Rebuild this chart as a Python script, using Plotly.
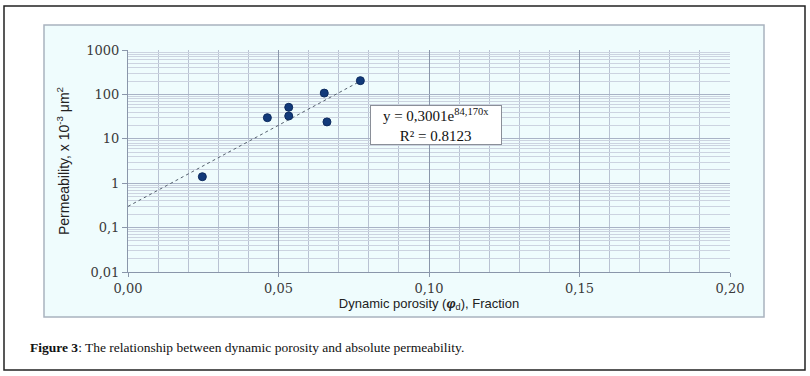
import plotly.graph_objects as go
import math

# Data
porosity = [0.0247, 0.0463, 0.0534, 0.0534, 0.0652, 0.0661, 0.0772]
permeability = [1.40, 29.9, 51.2, 32.6, 107, 24.0, 204]

# Trendline coefficients shown on the chart (y = a * exp(b x))
fit_a = 0.3001
fit_b = 84.170
fit_x = [0.0, 0.0785]
fit_y = [fit_a * math.exp(fit_b * x) for x in fit_x]

x_tickvals = [0.00, 0.05, 0.10, 0.15, 0.20]
x_ticktext = ["0,00", "0,05", "0,10", "0,15", "0,20"]
y_tickvals = [0.01, 0.1, 1, 10, 100, 1000]
y_ticktext = ["0,01", "0,1", "1", "10", "100", "1000"]

W, H = 810, 376
L, R, T, B = 128, 730, 50, 272

fig = go.Figure()
fig.add_trace(go.Scatter(x=fit_x, y=fit_y, mode="lines",
                         line=dict(color="#55606e", width=1, dash="dot"),
                         hoverinfo="skip", showlegend=False))
fig.add_trace(go.Scatter(x=porosity, y=permeability, mode="markers",
                         marker=dict(color="#123a7a", size=8,
                                     line=dict(color="#0c2a5e", width=1)),
                         showlegend=False))

tickfont = dict(family="DejaVu Serif", size=13, color="#3a3a3a")
gridc = "#b9c2d2"
fig.update_xaxes(range=[0, 0.2], tickvals=x_tickvals, ticktext=x_ticktext,
                 tickfont=tickfont, showgrid=True, gridcolor="#8a96aa", gridwidth=1,
                 minor=dict(dtick=0.01, showgrid=True, gridcolor=gridc, gridwidth=1),
                 showline=True, linecolor="#8a96aa", ticks="outside", ticklen=4,
                 tickcolor="#8a96aa", zeroline=False,
                 title=dict(text="Dynamic porosity (<b><i>φ</i></b><sub>d</sub>), Fraction",
                            font=dict(family="Liberation Sans Narrow, Liberation Sans", size=13, color="#222"),
                            standoff=3))
fig.update_yaxes(type="log", range=[-2, 3], tickvals=y_tickvals, ticktext=y_ticktext,
                 tickfont=tickfont, showgrid=True, gridcolor="#a9b3c6", gridwidth=1,
                 minor=dict(dtick="D1", showgrid=True, gridcolor="#ccd3e0", gridwidth=1),
                 showline=True, linecolor="#8a96aa", ticks="outside", ticklen=5,
                 tickcolor="#8a96aa", zeroline=False,
                 title=dict(text="Permeability, x 10<sup>-3</sup> μm<sup>2</sup>",
                            font=dict(family="Liberation Sans", size=14, color="#222"),
                            standoff=13))

# equation box
bx = (436 - L) / (R - L) * 0.2
by = 3 - (124.5 - T) / ((B - T) / 5)
fig.add_annotation(x=bx, y=by, xref="x", yref="y", showarrow=False,
                   text="y = 0,3001e<sup>84,170x</sup><br>R² = 0.8123",
                   font=dict(family="Liberation Serif", size=15, color="#111"),
                   bgcolor="white", bordercolor="#8a8f98", borderwidth=1,
                   borderpad=0, width=130, align="center")

def px(x):
    return (x - L) / (R - L)

def py(y):
    return (B - y) / (B - T)

# caption
fig.add_annotation(x=px(28), y=py(347), xref="paper", yref="paper",
                   xanchor="left", yanchor="middle", showarrow=False,
                   text="<b>Figure 3</b>: The relationship between dynamic porosity and absolute permeability.",
                   font=dict(family="Liberation Serif", size=13.5, color="#111"))

# chart area background + border
fig.add_shape(type="rect", xref="paper", yref="paper",
              x0=px(44), x1=px(764), y0=py(317), y1=py(25),
              fillcolor="#effcfd", line=dict(color="#a9b3bf", width=1.5), layer="below")
# outer border
fig.add_shape(type="rect", xref="paper", yref="paper",
              x0=px(4), x1=px(805), y0=py(370), y1=py(6),
              fillcolor="rgba(0,0,0,0)", line=dict(color="#222", width=1.5), layer="below")

fig.update_layout(width=W, height=H, margin=dict(l=L, r=W - R, t=T, b=H - B),
                  paper_bgcolor="white", plot_bgcolor="#effcfd")
fig.write_html("out.html", config={"displayModeBar": False},
               post_script="document.body.style.margin='0';document.body.style.overflow='hidden';")
